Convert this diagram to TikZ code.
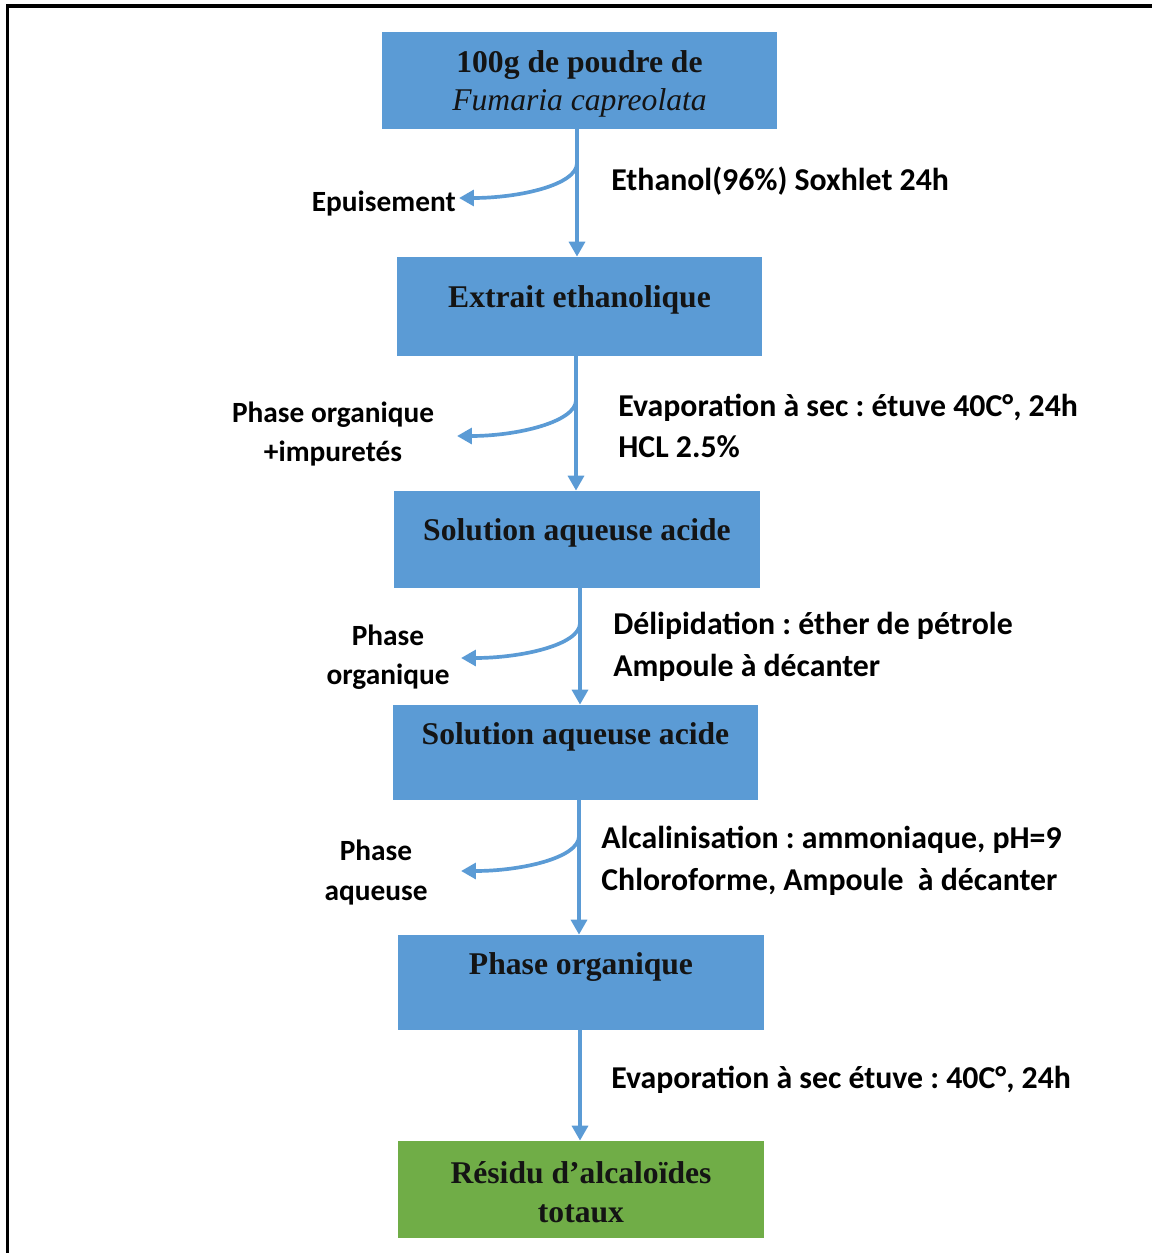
\documentclass[tikz,border=0pt]{standalone}
\usepackage{fontspec}
\setmainfont{Liberation Serif}
\newfontfamily\labfont{Carlito}
\usetikzlibrary{arrows.meta,calc}
\definecolor{boxblue}{HTML}{5B9BD5}
\definecolor{boxgreen}{HTML}{70AD47}
\frenchspacing
\begin{document}
\begin{tikzpicture}[x=0.02cm,y=-0.02cm,
  box/.style={draw=none,rectangle,inner sep=0pt},
  boxtxt/.style={font=\fontsize{18}{22}\selectfont\bfseries,align=center,inner sep=0pt,text=black!92},
  lab/.style={font=\labfont\fontsize{18.1}{23.8}\selectfont\bfseries,inner sep=0pt,align=left},
  llab/.style={font=\labfont\fontsize{16.7}{22.3}\selectfont\bfseries,inner sep=0pt,align=center},
  flow/.style={draw=boxblue,line width=2.1pt,-{Triangle[width=9pt,length=8.5pt]}},
  branch/.style={draw=boxblue,line width=2.1pt,-{Triangle[width=9pt,length=8.5pt]}}
]
\useasboundingbox (0,0) rectangle (1152,1253);
% frame
\draw[line width=2pt] (7.5,1253) -- (7.5,6) -- (1152,6);

% boxes
\path[fill=boxblue] (382,32) rectangle (777,129);
\node[box,minimum width=395*0.02cm,minimum height=97*0.02cm] (b1) at (579.5,80.5) {};
\path[fill=boxblue] (397,257) rectangle (762,356);
\node[box,minimum width=365*0.02cm,minimum height=99*0.02cm] (b2) at (579.5,306.5) {};
\path[fill=boxblue] (394,491) rectangle (760,588);
\node[box,minimum width=366*0.02cm,minimum height=97*0.02cm] (b3) at (577,539.5) {};
\path[fill=boxblue] (393,705) rectangle (758,800);
\node[box,minimum width=365*0.02cm,minimum height=95*0.02cm] (b4) at (575.5,752.5) {};
\path[fill=boxblue] (398,935) rectangle (764,1030);
\node[box,minimum width=366*0.02cm,minimum height=95*0.02cm] (b5) at (581,982.5) {};
\path[fill=boxgreen] (398,1141) rectangle (764,1238);
\node[box,minimum width=366*0.02cm,minimum height=97*0.02cm] (b6) at (581,1189.5) {};

% box texts
\node[boxtxt] (t1) at (579.5,84) {100g de poudre de\\{\mdseries\itshape Fumaria capreolata}};
\node[boxtxt] (t2) at (579.5,300) {Extrait ethanolique};
\node[boxtxt] (t3) at (577,533) {Solution aqueuse acide};
\node[boxtxt] (t4) at (575.5,737) {Solution aqueuse acide};
\node[boxtxt] (t5) at (581,967) {Phase organique};
\node[boxtxt] (t6) at (581,1192) {Résidu d’alcaloïdes\\totaux};

% main arrows
\draw[flow] (b1.south -| 577,0) -- (b2.north -| 577,0);
\draw[flow] (b2.south -| 576,0) -- (b3.north -| 576,0);
\draw[flow] (b3.south -| 580,0) -- (b4.north -| 580,0);
\draw[flow] (b4.south -| 579,0) -- (b5.north -| 579,0);
\draw[flow] (b5.south -| 580,0) -- (b6.north -| 580,0);

% branch coordinates
\coordinate (s1) at (577,163);
\coordinate (e1) at (459,198);
\coordinate (s2) at (576,400);
\coordinate (e2) at (457,436);
\coordinate (s3) at (580,623);
\coordinate (e3) at (461,658);
\coordinate (s4) at (579,836);
\coordinate (e4) at (461,871);
\draw[branch] (s1) .. controls ($(s1)+(0,22)$) and ($(e1)+(60,0)$) .. (e1);
\draw[branch] (s2) .. controls ($(s2)+(0,22)$) and ($(e2)+(60,0)$) .. (e2);
\draw[branch] (s3) .. controls ($(s3)+(0,22)$) and ($(e3)+(60,0)$) .. (e3);
\draw[branch] (s4) .. controls ($(s4)+(0,22)$) and ($(e4)+(60,0)$) .. (e4);

% right labels
\node[lab,anchor=west] (r1) at (611,181) {Ethanol(96\%) Soxhlet 24h};
\node[lab,anchor=west] (r2) at (618,426) {Evaporation à sec : étuve 40C°, 24h\\HCL 2.5\%};
\node[lab,anchor=west] (r3) at (613,646.5) {Délipidation : éther de pétrole\\Ampoule à décanter};
\node[lab,anchor=west] (r4) at (601,860.5) {Alcalinisation : ammoniaque, pH=9\\Chloroforme, Ampoule\ \ à décanter};
\node[lab,anchor=west] (r5) at (611,1080) {Evaporation à sec étuve : 40C°, 24h};

% left labels
\node[llab,anchor=east] (l1) at (456,204) {Epuisement};
\node[llab] (l2) at (333,434) {Phase organique\\+impuretés};
\node[llab] (l3) at (388,657) {Phase\\organique};
\node[llab] (l4) at (376,872.5) {Phase\\aqueuse};
\end{tikzpicture}
\end{document}
